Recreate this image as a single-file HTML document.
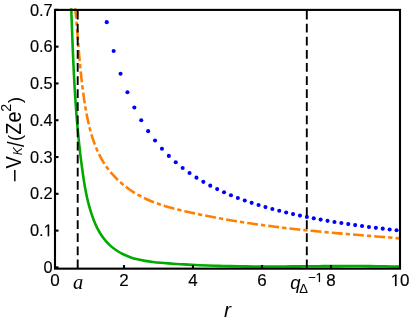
<!DOCTYPE html>
<html><head><meta charset="utf-8"><title>plot</title>
<style>html,body{margin:0;padding:0;background:#fff}body{width:409px;height:321px;overflow:hidden;position:relative;font-family:"Liberation Sans",sans-serif}</style>
</head><body>
<svg width="409" height="321" viewBox="0 0 409 321" style="position:absolute;left:0;top:0;will-change:transform">
<defs><clipPath id="c"><rect x="55.00" y="8.2" width="345.00" height="260.45"/></clipPath></defs>
<g clip-path="url(#c)" fill="none">
<path d="M71.15 5.98 C71.25 8.56 71.34 11.14 71.44 13.72 C71.53 16.30 71.62 18.88 71.72 21.46 C71.81 24.03 71.91 26.61 72.00 29.19 C72.10 31.76 72.19 34.34 72.29 36.91 C72.39 39.48 72.49 42.06 72.59 44.63 C72.70 47.20 72.80 49.77 72.91 52.34 C73.02 54.91 73.13 57.48 73.24 60.05 C73.36 62.62 73.48 65.19 73.60 67.75 C73.72 70.32 73.85 72.89 73.98 75.45 C74.11 78.02 74.25 80.59 74.39 83.15 C74.54 85.72 74.68 88.28 74.84 90.84 C74.99 93.41 75.15 95.97 75.32 98.53 C75.49 101.09 75.66 103.66 75.85 106.22 C76.03 108.78 76.22 111.34 76.41 113.90 C76.61 116.46 76.82 119.02 77.03 121.58 C77.25 124.14 77.47 126.70 77.71 129.26 C77.94 131.82 78.18 134.38 78.43 136.94 C78.69 139.49 78.95 142.05 79.22 144.61 C79.50 147.17 79.78 149.73 80.08 152.28 C80.37 154.84 80.68 157.40 81.00 159.95 C81.32 162.51 81.65 165.07 82.00 167.63 C82.34 170.18 82.70 172.74 83.07 175.30 C83.44 177.85 83.84 180.41 84.25 182.96 C84.67 185.50 85.12 188.05 85.61 190.59 C86.09 193.12 86.62 195.65 87.19 198.17 C87.76 200.69 88.38 203.20 89.06 205.69 C89.73 208.18 90.47 210.66 91.27 213.13 C92.08 215.59 92.95 218.04 93.90 220.46 C94.85 222.87 95.89 225.26 97.03 227.58 C98.17 229.90 99.41 232.15 100.78 234.31 C102.14 236.47 103.63 238.53 105.27 240.46 C106.90 242.40 108.68 244.21 110.58 245.88 C112.48 247.56 114.50 249.10 116.61 250.50 C118.72 251.90 120.92 253.16 123.19 254.28 C125.46 255.39 127.79 256.36 130.18 257.19 C132.56 258.03 135.00 258.74 137.48 259.34 C139.96 259.95 142.47 260.45 145.02 260.88 C147.56 261.31 150.13 261.66 152.72 261.97 C155.31 262.27 157.91 262.52 160.52 262.75 C163.12 262.97 165.73 263.18 168.33 263.37 C170.93 263.57 173.53 263.75 176.13 263.93 C178.73 264.10 181.32 264.26 183.92 264.42 C186.51 264.57 189.10 264.71 191.69 264.84 C194.27 264.97 196.86 265.09 199.44 265.21 C202.03 265.32 204.61 265.42 207.19 265.52 C209.76 265.61 212.34 265.70 214.92 265.77 C217.49 265.85 220.07 265.92 222.64 265.99 C225.21 266.05 227.78 266.10 230.35 266.15 C232.92 266.20 235.49 266.25 238.06 266.28 C240.62 266.32 243.19 266.35 245.76 266.37 C248.32 266.40 250.88 266.42 253.45 266.43 C256.01 266.45 258.57 266.46 261.14 266.47 C263.70 266.47 266.26 266.48 268.82 266.47 C271.38 266.47 273.94 266.47 276.50 266.46 C279.06 266.45 281.62 266.44 284.19 266.43 C286.75 266.42 289.31 266.41 291.87 266.39 C294.43 266.37 296.99 266.36 299.55 266.34 C302.11 266.32 304.67 266.30 307.23 266.28 C309.80 266.26 312.36 266.24 314.92 266.22 C317.49 266.21 320.05 266.19 322.62 266.17 C325.18 266.15 327.75 266.14 330.32 266.12 C332.88 266.11 335.45 266.09 338.02 266.08 C340.59 266.07 343.16 266.06 345.74 266.06 C348.31 266.05 350.88 266.05 353.46 266.05 C356.04 266.05 358.62 266.06 361.20 266.07 C363.78 266.08 366.36 266.09 368.94 266.11 C371.52 266.13 374.11 266.15 376.70 266.18 C379.29 266.21 381.88 266.25 384.47 266.29 C387.06 266.33 389.66 266.38 392.26 266.43 C394.86 266.48 397.46 266.55 400.06 266.61" stroke="#00aa00" stroke-width="2.6"/>
<path d="M75.03 6.04 C75.26 8.32 75.47 10.59 75.67 12.86 C75.88 15.13 76.08 17.39 76.27 19.65 C76.47 21.91 76.65 24.17 76.84 26.42 C77.02 28.67 77.21 30.92 77.39 33.17 C77.57 35.41 77.75 37.66 77.93 39.90 C78.11 42.14 78.29 44.38 78.47 46.62 C78.65 48.86 78.84 51.10 79.03 53.34 C79.22 55.57 79.41 57.81 79.61 60.05 C79.81 62.28 80.02 64.52 80.23 66.76 C80.45 68.99 80.67 71.23 80.90 73.47 C81.14 75.71 81.38 77.95 81.63 80.19 C81.89 82.43 82.16 84.68 82.44 86.93 C82.72 89.17 83.01 91.42 83.32 93.68 C83.63 95.93 83.96 98.18 84.30 100.44 C84.64 102.71 85.00 104.97 85.38 107.24 C85.77 109.50 86.17 111.77 86.60 114.03 C87.03 116.30 87.49 118.56 87.98 120.81 C88.47 123.05 88.99 125.29 89.56 127.52 C90.12 129.74 90.72 131.95 91.36 134.14 C92.01 136.33 92.70 138.49 93.44 140.63 C94.18 142.77 94.96 144.89 95.81 146.97 C96.65 149.05 97.55 151.10 98.51 153.12 C99.47 155.13 100.50 157.11 101.58 159.04 C102.67 160.97 103.83 162.86 105.06 164.71 C106.28 166.55 107.58 168.34 108.95 170.09 C110.31 171.83 111.75 173.53 113.24 175.17 C114.73 176.82 116.29 178.41 117.90 179.94 C119.51 181.48 121.17 182.97 122.89 184.39 C124.61 185.82 126.37 187.19 128.19 188.51 C130.00 189.82 131.86 191.08 133.76 192.28 C135.66 193.47 137.60 194.61 139.58 195.69 C141.56 196.76 143.57 197.77 145.61 198.73 C147.65 199.68 149.73 200.58 151.83 201.42 C153.93 202.26 156.05 203.06 158.20 203.80 C160.34 204.55 162.51 205.26 164.69 205.93 C166.87 206.60 169.07 207.23 171.28 207.83 C173.49 208.43 175.71 209.01 177.94 209.56 C180.17 210.11 182.40 210.64 184.64 211.16 C186.87 211.68 189.11 212.18 191.35 212.67 C193.58 213.17 195.82 213.65 198.05 214.12 C200.28 214.59 202.52 215.05 204.75 215.50 C206.98 215.95 209.22 216.39 211.45 216.82 C213.68 217.25 215.92 217.67 218.15 218.08 C220.38 218.49 222.61 218.89 224.85 219.28 C227.08 219.67 229.31 220.06 231.54 220.43 C233.77 220.80 236.00 221.17 238.24 221.53 C240.47 221.88 242.70 222.23 244.93 222.57 C247.16 222.92 249.40 223.25 251.63 223.57 C253.86 223.90 256.09 224.22 258.33 224.53 C260.56 224.84 262.79 225.14 265.03 225.44 C267.26 225.74 269.49 226.03 271.73 226.31 C273.96 226.60 276.20 226.87 278.43 227.15 C280.67 227.42 282.90 227.68 285.14 227.94 C287.38 228.20 289.61 228.46 291.85 228.71 C294.09 228.96 296.33 229.20 298.57 229.44 C300.81 229.68 303.04 229.92 305.29 230.15 C307.53 230.38 309.77 230.61 312.01 230.83 C314.25 231.05 316.50 231.27 318.74 231.49 C320.98 231.70 323.23 231.91 325.48 232.12 C327.72 232.33 329.97 232.54 332.22 232.74 C334.47 232.94 336.72 233.14 338.97 233.34 C341.22 233.54 343.47 233.73 345.72 233.92 C347.98 234.12 350.23 234.31 352.49 234.50 C354.74 234.69 357.00 234.88 359.26 235.06 C361.52 235.25 363.78 235.44 366.04 235.62 C368.30 235.81 370.57 235.99 372.83 236.18 C375.10 236.36 377.36 236.54 379.63 236.73 C381.90 236.91 384.17 237.09 386.44 237.28 C388.71 237.46 390.99 237.65 393.26 237.83 C395.54 238.02 397.81 238.20 400.09 238.39" stroke="#ff8000" stroke-width="2.6" stroke-dasharray="10.9 3.05 4.3 3.05" stroke-dashoffset="19.58"/>
<g fill="#0000ff"><circle cx="106.75" cy="22.13" r="2.05"/><circle cx="113.65" cy="50.99" r="2.05"/><circle cx="120.55" cy="73.77" r="2.05"/><circle cx="127.45" cy="92.21" r="2.05"/><circle cx="134.35" cy="107.44" r="2.05"/><circle cx="141.25" cy="120.24" r="2.05"/><circle cx="148.15" cy="131.14" r="2.05"/><circle cx="155.05" cy="140.54" r="2.05"/><circle cx="161.95" cy="148.72" r="2.05"/><circle cx="168.85" cy="155.92" r="2.05"/><circle cx="175.75" cy="162.29" r="2.05"/><circle cx="182.65" cy="167.97" r="2.05"/><circle cx="189.55" cy="173.07" r="2.05"/><circle cx="196.45" cy="177.67" r="2.05"/><circle cx="203.35" cy="181.84" r="2.05"/><circle cx="210.25" cy="185.64" r="2.05"/><circle cx="217.15" cy="189.12" r="2.05"/><circle cx="224.05" cy="192.32" r="2.05"/><circle cx="230.95" cy="195.26" r="2.05"/><circle cx="237.85" cy="197.98" r="2.05"/><circle cx="244.75" cy="200.51" r="2.05"/><circle cx="251.65" cy="202.86" r="2.05"/><circle cx="258.55" cy="205.04" r="2.05"/><circle cx="265.45" cy="207.09" r="2.05"/><circle cx="272.35" cy="209.00" r="2.05"/><circle cx="279.25" cy="210.80" r="2.05"/><circle cx="286.15" cy="212.49" r="2.05"/><circle cx="293.05" cy="214.08" r="2.05"/><circle cx="299.95" cy="215.58" r="2.05"/><circle cx="306.85" cy="217.00" r="2.05"/><circle cx="313.75" cy="218.35" r="2.05"/><circle cx="320.65" cy="219.62" r="2.05"/><circle cx="327.55" cy="220.83" r="2.05"/><circle cx="334.45" cy="221.98" r="2.05"/><circle cx="341.35" cy="223.07" r="2.05"/><circle cx="348.25" cy="224.12" r="2.05"/><circle cx="355.15" cy="225.11" r="2.05"/><circle cx="362.05" cy="226.06" r="2.05"/><circle cx="368.95" cy="226.97" r="2.05"/><circle cx="375.85" cy="227.84" r="2.05"/><circle cx="382.75" cy="228.67" r="2.05"/><circle cx="389.65" cy="229.47" r="2.05"/><circle cx="396.55" cy="230.24" r="2.05"/></g>
<line x1="77.70" y1="268.3" x2="77.70" y2="9" stroke="#000" stroke-width="1.9" stroke-dasharray="8.75 4.35"/>
<line x1="306.80" y1="268.3" x2="306.80" y2="9" stroke="#000" stroke-width="1.9" stroke-dasharray="8.75 4.35"/>
</g>
<rect x="55.00" y="9.90" width="345.00" height="258.75" fill="none" stroke="#000" stroke-width="2.10"/>
<line x1="55.00" y1="267.40" x2="58.50" y2="267.40" stroke="#000" stroke-width="2.1"/>
<line x1="55.00" y1="230.61" x2="58.50" y2="230.61" stroke="#000" stroke-width="2.1"/>
<line x1="55.00" y1="193.82" x2="58.50" y2="193.82" stroke="#000" stroke-width="2.1"/>
<line x1="55.00" y1="157.03" x2="58.50" y2="157.03" stroke="#000" stroke-width="2.1"/>
<line x1="55.00" y1="120.24" x2="58.50" y2="120.24" stroke="#000" stroke-width="2.1"/>
<line x1="55.00" y1="83.45" x2="58.50" y2="83.45" stroke="#000" stroke-width="2.1"/>
<line x1="55.00" y1="46.66" x2="58.50" y2="46.66" stroke="#000" stroke-width="2.1"/>
<line x1="55.00" y1="9.87" x2="58.50" y2="9.87" stroke="#000" stroke-width="2.1"/>
<line x1="124.00" y1="268.65" x2="124.00" y2="265.05" stroke="#000" stroke-width="2.1"/>
<line x1="193.00" y1="268.65" x2="193.00" y2="265.05" stroke="#000" stroke-width="2.1"/>
<line x1="262.00" y1="268.65" x2="262.00" y2="265.05" stroke="#000" stroke-width="2.1"/>
<line x1="331.00" y1="268.65" x2="331.00" y2="265.05" stroke="#000" stroke-width="2.1"/>
<g font-family="Liberation Sans, sans-serif" font-size="17" fill="#000" stroke="#000" stroke-width="0.15">
<text transform="translate(52.70,273.05) scale(0.965,1)" text-anchor="end">0</text>
<text transform="translate(29.90,236.26) scale(0.965,1)" text-anchor="start">0.</text>
<path transform="translate(43.58,236.26) scale(0.00801,-0.00830)" d="M515 0V1237L197 1010V1180L530 1409H696V0Z" fill="#000" stroke="#000" stroke-width="18.1"/>
<text transform="translate(52.70,199.47) scale(0.965,1)" text-anchor="end">0.2</text>
<text transform="translate(52.70,162.68) scale(0.965,1)" text-anchor="end">0.3</text>
<text transform="translate(52.70,125.89) scale(0.965,1)" text-anchor="end">0.4</text>
<text transform="translate(52.70,89.10) scale(0.965,1)" text-anchor="end">0.5</text>
<text transform="translate(52.70,52.31) scale(0.965,1)" text-anchor="end">0.6</text>
<text transform="translate(52.70,15.52) scale(0.965,1)" text-anchor="end">0.7</text>
<text transform="translate(55.10,286.10) scale(1.000,1)" text-anchor="middle">0</text>
<text transform="translate(124.10,286.10) scale(1.000,1)" text-anchor="middle">2</text>
<text transform="translate(193.10,286.10) scale(1.000,1)" text-anchor="middle">4</text>
<text transform="translate(262.10,286.10) scale(1.000,1)" text-anchor="middle">6</text>
<text transform="translate(331.10,286.10) scale(1.000,1)" text-anchor="middle">8</text>
<path transform="translate(390.75,286.10) scale(0.00830,-0.00830)" d="M515 0V1237L197 1010V1180L530 1409H696V0Z" fill="#000" stroke="#000" stroke-width="18.1"/>
<text transform="translate(400.10,286.10) scale(1.000,1)" text-anchor="start">0</text>
</g>
<text x="78" y="289.2" text-anchor="middle" font-family="Liberation Serif, serif" font-style="italic" font-size="20.5">a</text>
<text x="290.3" y="289.2" font-family="Liberation Sans, sans-serif" font-style="italic" font-size="18.5">q</text>
<text x="299.2" y="292.7" font-family="Liberation Sans, sans-serif" font-size="13">Δ</text>
<text x="308.2" y="282" font-family="Liberation Sans, sans-serif" font-size="13" stroke="#000" stroke-width="0.15">−</text>
<path transform="translate(315.59,282.00) scale(0.00635,-0.00635)" d="M515 0V1237L197 1010V1180L530 1409H696V0Z" fill="#000" stroke="#000" stroke-width="23.6"/>
<text x="224" y="317" font-family="Liberation Sans, sans-serif" font-style="italic" font-size="21">r</text>
<g transform="translate(21.00,181.00) rotate(-90)" font-family="Liberation Sans, sans-serif" fill="#000">
<text transform="translate(-1.13,1.45) scale(1.073,1)" font-size="21.3">−</text>
<text transform="translate(12.62,0.00) scale(0.863,1)" font-size="21.3">V</text>
<text transform="translate(25.73,1.20) scale(0.892,1)" font-size="13.5" font-style="italic">K</text>
<text transform="translate(33.90,3.10) scale(0.850,1)" font-size="23.3">/</text>
<text transform="translate(39.98,0.00) scale(0.979,1)" font-size="18.5">(</text>
<text transform="translate(46.49,0.00) scale(0.900,1)" font-size="21.3">Z</text>
<text transform="translate(58.46,0.00) scale(0.930,1)" font-size="21.3">e</text>
<text transform="translate(69.18,-9.70) scale(0.971,1)" font-size="14.7">2</text>
<text transform="translate(77.89,0.00) scale(0.979,1)" font-size="18.5">)</text>
</g>
</svg>
</body></html>
